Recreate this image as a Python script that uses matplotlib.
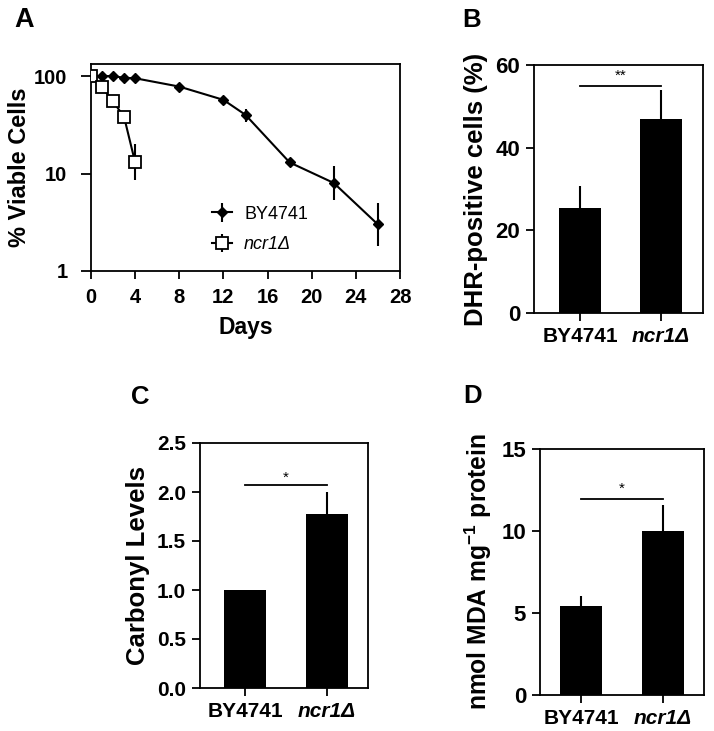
import matplotlib
matplotlib.use("Agg")
import matplotlib.pyplot as plt

plt.rcParams['font.family'] = ['Liberation Sans', 'DejaVu Sans']
plt.rcParams['mathtext.fontset'] = 'custom'
plt.rcParams['mathtext.rm'] = 'Liberation Sans:bold'
plt.rcParams['mathtext.default'] = 'rm'

# Panel A data
days_by = [0, 1, 2, 3, 4, 8, 12, 14, 18, 22, 26]
viable_by = [100, 100, 100, 96, 95, 78, 57, 40, 13, 8, 3]
err_by_lo = [0, 0, 0, 2, 2, 3, 4, 6, 1, 2.7, 1.2]
err_by_hi = [0, 0, 0, 2, 2, 3, 4, 6, 1, 3.9, 2.0]
days_ncr = [0, 1, 2, 3, 4]
viable_ncr = [100, 77, 55, 38, 13]
err_ncr_lo = [0, 3, 6, 5, 4.5]
err_ncr_hi = [0, 3, 6, 5, 7]

strains = ['BY4741', 'ncr1\u0394']
# Panel B
dhr_vals = [25.5, 47]
dhr_err = [5.2, 7]
# Panel C
carbonyl_vals = [1.0, 1.78]
carbonyl_err = [0, 0.22]
# Panel D
mda_vals = [5.45, 10.0]
mda_err = [0.6, 1.6]

W, H = 714, 731
fig = plt.figure(figsize=(W / 100, H / 100), dpi=100)

def rect(l, t, r, b):
    return [l / W, 1 - b / H, (r - l) / W, (b - t) / H]

lw = 1.3

def style(ax, fs, xfs=None):
    for s in ax.spines.values():
        s.set_linewidth(lw)
    ax.tick_params(direction='out', length=6, width=lw, pad=4)
    ax.tick_params(axis='y', labelsize=fs)
    ax.tick_params(axis='x', labelsize=xfs if xfs else fs)
    for t in ax.get_yticklabels() + ax.get_xticklabels():
        t.set_fontweight('bold')

def letter(ch, x, y, fs=18.5):
    fig.text(x / W, 1 - y / H, ch, fontsize=fs, fontweight='bold', ha='center', va='center')

# ---------- Panel A ----------
axA = fig.add_axes(rect(91, 64, 400, 271))
axA.errorbar(days_by, viable_by, yerr=[err_by_lo, err_by_hi], color='black', lw=1.5,
             marker='D', ms=5.5, mfc='black', mec='black', elinewidth=1.5, capsize=0,
             label='BY4741', zorder=3)
axA.errorbar(days_ncr, viable_ncr, yerr=[err_ncr_lo, err_ncr_hi], color='black', lw=1.5,
             marker='s', ms=9, mfc='white', mec='black', mew=1.3, elinewidth=1.5, capsize=0,
             label='ncr1\u0394', zorder=4)
axA.set_yscale('log')
axA.set_ylim(1, 133)
axA.set_xlim(0, 28)
axA.set_xticks([0, 4, 8, 12, 16, 20, 24, 28])
axA.set_yticks([1, 10, 100])
axA.set_yticklabels(['1', '10', '100'])
axA.yaxis.set_minor_locator(matplotlib.ticker.NullLocator())
axA.set_xlabel('Days', fontsize=16.5, fontweight='bold', labelpad=7)
axA.set_ylabel('% Viable Cells', fontsize=17, fontweight='bold', labelpad=2)
style(axA, 14.5)
axA.tick_params(axis='y', length=7, pad=10)
axA.tick_params(axis='x', length=6, pad=6)
leg = axA.legend(loc='upper left', bbox_to_anchor=(0.39, 0.315), frameon=False,
                 fontsize=13, handlelength=1.15, handletextpad=0.65, labelspacing=0.75,
                 borderaxespad=0, borderpad=0)
leg.get_texts()[1].set_fontstyle('italic')
letter('A', 24, 20, 19.5)

def bar_panel(box, vals, errs, ylim, yticks, ylabel, yfs, sig_y, star, star_y, xlim, tfs):
    ax = fig.add_axes(rect(*box))
    x = [0, 1]
    ax.bar(x, vals, width=0.52, color='black', zorder=2)
    ax.errorbar(x, vals, yerr=[[0] * len(errs), errs], fmt='none', ecolor='black',
                elinewidth=1.5, capsize=0, zorder=1)
    ax.plot([0, 1], [sig_y, sig_y], color='black', lw=1.3)
    ax.text(0.5, star_y, star, ha='center', va='center', fontsize=11)
    ax.set_xlim(*xlim)
    ax.set_ylim(*ylim)
    ax.set_yticks(yticks)
    ax.set_xticks(x)
    ax.set_xticklabels(strains)
    ax.set_ylabel(ylabel, fontsize=yfs, fontweight='bold', labelpad=5)
    style(ax, tfs, 15)
    ax.get_xticklabels()[1].set_fontstyle('italic')
    return ax

bar_panel((534, 65, 703, 313), dhr_vals, dhr_err, (0, 60), [0, 20, 40, 60],
          'DHR-positive cells (%)', 18.5, 55, '**', 57.3, (-0.57, 1.52), 16)
letter('B', 472, 20)
axC = bar_panel((200, 443, 368, 688), carbonyl_vals, carbonyl_err, (0, 2.5),
                [0, 0.5, 1.0, 1.5, 2.0, 2.5], 'Carbonyl Levels', 18.5, 2.07, '*', 2.15,
                (-0.55, 1.5), 15)
axC.set_yticklabels(['0.0', '0.5', '1.0', '1.5', '2.0', '2.5'])
for t in axC.get_yticklabels():
    t.set_fontweight('bold')
letter('C', 140, 397)
bar_panel((540, 449, 704, 695), mda_vals, mda_err, (0, 15), [0, 5, 10, 15],
          r'nmol MDA mg$^{-1}$ protein', 17.7, 11.95, '*', 12.6, (-0.5, 1.5), 16)
letter('D', 473, 396)

fig.savefig('out.png', dpi=100, facecolor='white')
